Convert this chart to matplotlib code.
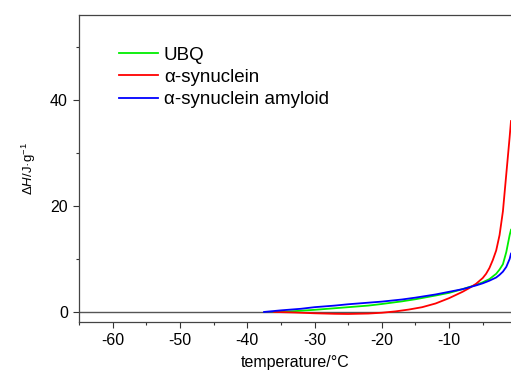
import matplotlib
matplotlib.use('Agg')
import matplotlib.pyplot as plt
from matplotlib.ticker import MultipleLocator

plt.rcParams['font.family'] = ['Liberation Sans', 'DejaVu Sans']
plt.rcParams['mathtext.fontset'] = 'custom'
plt.rcParams['mathtext.rm'] = 'Liberation Sans'
plt.rcParams['mathtext.it'] = 'Liberation Sans:italic'
plt.rcParams['axes.unicode_minus'] = False

# curves
ubq_t = [-36, -33, -30, -27, -25, -22, -20, -17, -15, -12, -10, -8, -6, -5, -4, -3, -2.5, -2, -1.5, -1, -0.8]
ubq_h = [0, 0.15, 0.4, 0.7, 0.9, 1.2, 1.5, 2.0, 2.4, 3.1, 3.6, 4.3, 5.1, 5.6, 6.2, 7.2, 8.0, 9.0, 11.3, 14.5, 15.5]

syn_t = [-36, -33, -30, -27, -25, -22, -20, -18, -16, -14, -12, -10, -8, -7, -6, -5, -4.5, -4, -3.5, -3, -2.5, -2, -1.5, -1, -0.8]
syn_h = [0, -0.1, -0.25, -0.35, -0.38, -0.3, -0.15, 0.1, 0.45, 0.9, 1.6, 2.6, 3.8, 4.5, 5.3, 6.4, 7.2, 8.3, 9.8, 11.6, 14.5, 19, 26, 33, 36]

amy_t = [-37.5, -35, -32, -30, -27, -25, -22, -20, -17, -15, -12, -10, -8, -6, -5, -4, -3, -2.5, -2, -1.5, -1, -0.8]
amy_h = [0, 0.3, 0.6, 0.9, 1.2, 1.45, 1.75, 1.95, 2.35, 2.7, 3.3, 3.8, 4.3, 5.0, 5.4, 5.9, 6.5, 7.0, 7.6, 8.5, 10, 11]

fig = plt.figure(figsize=(5.11, 3.71), dpi=100)
ax = fig.add_axes([0.1546, 0.132, 0.8454, 0.8276])

ax.axhline(0, color='#555555', lw=1.0, zorder=1)
ax.plot(ubq_t, ubq_h, color='#00ee00', lw=1.3, label='UBQ')
ax.plot(syn_t, syn_h, color='#ff0000', lw=1.3, label='α-synuclein')
ax.plot(amy_t, amy_h, color='#0000ff', lw=1.3, label='α-synuclein amyloid')

ax.set_xlim(-65, -0.8)
ax.set_ylim(-1.9, 56)
ax.xaxis.set_major_locator(MultipleLocator(10))
ax.xaxis.set_minor_locator(MultipleLocator(5))
ax.yaxis.set_major_locator(MultipleLocator(20))
ax.yaxis.set_minor_locator(MultipleLocator(10))
ax.set_xticks([-60, -50, -40, -30, -20, -10])
ax.tick_params(which='major', direction='out', length=4, width=0.8, labelsize=11.5, pad=4, color='#333333')
ax.tick_params(which='minor', direction='out', length=2.2, width=0.8, color='#333333')
ax.spines['right'].set_visible(False)
for s in ['left', 'bottom', 'top']:
    ax.spines[s].set_color('#444444')
    ax.spines[s].set_linewidth(0.9)

ax.set_xlabel('temperature/°C', fontsize=11.5, labelpad=5)
ax.set_ylabel(r'$\Delta\mathit{H}$/J·g$^{-1}$', fontsize=9.5, labelpad=9)

ax.legend(loc='upper left', bbox_to_anchor=(0.075, 0.922), frameon=False, fontsize=13.5,
          handlelength=2.1, handletextpad=0.3, labelspacing=0.28, borderaxespad=0)

fig.savefig('out.png', dpi=100)
